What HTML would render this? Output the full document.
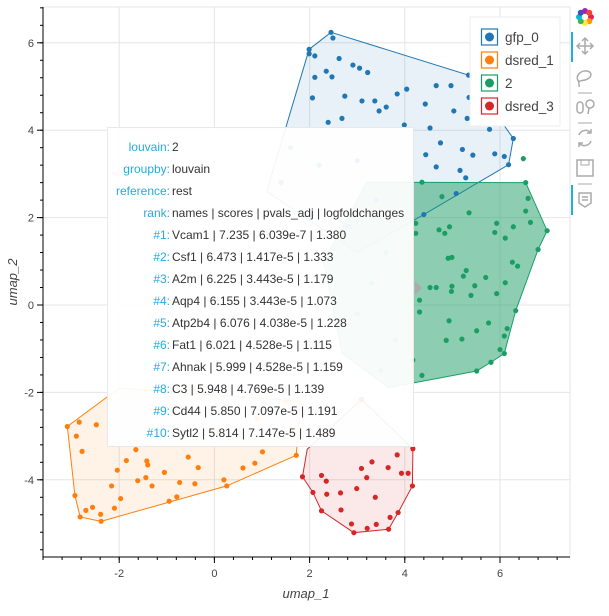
<!DOCTYPE html>
<html><head><meta charset="utf-8"><style>
body{margin:0;background:#fff;width:609px;height:616px;overflow:hidden;font-family:"Liberation Sans",sans-serif}
#wrap{position:relative;width:609px;height:616px}
svg{position:absolute;left:0;top:0}
#tip{position:absolute;left:107px;top:127px;width:307px;height:320px;background:rgba(255,255,255,0.93);border:1px solid #e8e8e8;box-sizing:border-box;font-size:12px;color:#333}
.row{position:absolute;left:0;height:16px;line-height:16px;white-space:nowrap}
.lab{display:inline-block;width:62px;text-align:right;color:#26aae1}
.val{display:inline-block;padding-left:2px}
</style></head><body><div id="wrap">
<svg id="plot" width="609" height="616"></svg>
<div id="tip"></div>
</div>
<script>
const categories=["gfp_0","dsred_1","2","dsred_3"];
const colors=["#1f77b4","#ff7f0e","#1b9e66","#d62728"];
const fillAlpha=[0.1,0.1,0.5,0.1];
const blueX=[2.45,2.49,1.99,1.99,2.11,2.62,2.35,2.91,3.05,3.22,2.11,2.47,2.06,2.74,3.10,3.37,3.46,3.61,3.84,4.04,4.66,4.97,5.34,4.43,5.03,5.35,5.31,2.39,2.68,3.99,4.53,5.78,4.75,5.21,5.43,4.44,5.89,6.09,6.28,6.18,4.66,5.16,5.28,5.08,4.40,1.6,2.2,3.0,3.4,1.4,2.8];
const blueY=[6.24,6.11,5.85,5.75,5.70,5.64,5.35,5.49,5.42,5.32,5.21,5.22,4.74,4.78,4.67,4.67,4.44,4.53,4.83,4.94,5.02,5.02,5.26,4.60,4.44,4.75,4.27,4.18,4.27,4.12,4.05,4.02,3.71,3.56,3.43,3.44,3.46,3.40,3.81,3.21,3.16,3.08,2.91,2.55,2.07,3.6,3.2,3.3,2.4,2.8,1.8];
const orangeX=[-3.09,-2.84,-2.48,-2.90,-2.78,-1.65,-1.85,-1.42,-1.40,-0.55,-0.34,-1.05,-2.04,-2.16,-1.44,-1.61,-1.31,-0.73,-0.41,0.20,0.26,0.60,0.85,1.01,1.72,-2.93,-1.97,-0.79,-0.95,-2.56,-2.70,-2.10,-2.39,-2.82,-2.38,-1.2,0.1,0.9,1.5];
const orangeY=[-2.78,-2.68,-2.74,-3.00,-3.35,-3.31,-3.56,-3.57,-3.66,-3.48,-3.72,-3.83,-3.78,-4.14,-3.95,-4.02,-4.14,-4.06,-4.09,-4.00,-4.14,-3.73,-3.62,-3.36,-3.44,-4.36,-4.43,-4.39,-4.49,-4.63,-4.70,-4.65,-4.79,-4.85,-4.95,-2.5,-2.9,-2.6,-2.2];
const greenX=[6.49,4.36,6.54,4.78,6.59,5.35,6.54,6.64,6.99,4.72,4.84,4.94,5.93,5.89,6.11,6.28,6.80,4.91,4.99,5.29,5.23,5.70,6.26,6.37,6.11,5.47,4.99,4.53,4.66,4.98,5.39,5.93,4.23,4.23,4.31,4.31,4.93,5.76,5.51,6.15,6.09,4.87,5.20,6.00,6.09,5.81,5.51,4.36,6.33,4.17,3.6,3.3,3.8,3.0,3.5];
const greenY=[3.35,2.81,2.80,2.48,2.44,2.11,2.15,1.89,1.70,1.72,1.64,1.79,1.87,1.66,1.53,1.79,1.27,1.07,1.09,0.79,0.66,0.63,0.98,0.89,0.51,0.44,0.43,0.40,0.40,0.31,0.22,0.26,1.87,1.64,0.11,-0.16,-0.36,-0.41,-0.59,-0.54,-0.71,-0.81,-0.78,-1.02,-1.11,-1.31,-1.51,-1.61,-0.13,-1.26,1.2,0.5,-0.8,-0.2,-1.5];
const redX=[4.17,3.84,3.31,3.09,3.65,3.93,4.07,1.85,2.25,2.35,3.20,4.16,2.07,2.36,2.65,2.99,3.38,2.25,2.66,3.86,3.69,2.88,3.40,3.21,3.66,2.93,3.09,2.4];
const redY=[-3.29,-3.43,-3.59,-3.74,-3.72,-3.85,-3.85,-3.93,-3.90,-4.03,-3.95,-4.14,-4.29,-4.33,-4.30,-4.20,-4.40,-4.71,-4.69,-4.75,-4.86,-5.01,-5.02,-5.11,-5.13,-5.21,-2.16,-2.9];
const hullBX=[2.45,5.34,6.28,6.18,4.40,3.0,1.1,1.99];
const hullBY=[6.24,5.26,3.81,3.21,2.07,1.2,2.6,5.85];
const hullOX=[-3.09,-2.93,-2.82,-2.38,0.26,1.72,1.8,-2.0];
const hullOY=[-2.78,-4.36,-4.85,-4.95,-4.14,-3.44,-2.2,-1.9];
const hullGX=[3.2,6.54,6.99,6.80,6.33,6.09,5.81,5.51,3.66,2.68,2.3];
const hullGY=[2.81,2.80,1.70,1.27,-0.13,-1.11,-1.31,-1.51,-1.89,-1.1,1.0];
const hullRX=[1.85,2.07,2.25,2.93,3.66,3.86,4.16,4.17,3.09,1.95];
const hullRY=[-3.93,-4.29,-4.71,-5.21,-5.13,-4.75,-4.14,-3.29,-2.16,-3.3];
const xTicks=[-2,0,2,4,6];
const yTicks=[-4,-2,0,2,4,6];
const tipLabels=["louvain:","groupby:","reference:","rank:","#1:","#2:","#3:","#4:","#5:","#6:","#7:","#8:","#9:","#10:"];
const tipValues=["2","louvain","rest","names | scores | pvals_adj | logfoldchanges","Vcam1 | 7.235 | 6.039e-7 | 1.380","Csf1 | 6.473 | 1.417e-5 | 1.333","A2m | 6.225 | 3.443e-5 | 1.179","Aqp4 | 6.155 | 3.443e-5 | 1.073","Atp2b4 | 6.076 | 4.038e-5 | 1.228","Fat1 | 6.021 | 4.528e-5 | 1.115","Ahnak | 5.999 | 4.528e-5 | 1.159","C3 | 5.948 | 4.769e-5 | 1.139","Cd44 | 5.850 | 7.097e-5 | 1.191","Sytl2 | 5.814 | 7.147e-5 | 1.489"];

const L=43,R=570,T=7,B=557;
const X=v=>214.4+47.6*v, Y=v=>305-43.7*v;
const NS="http://www.w3.org/2000/svg";
const svg=document.getElementById('plot');
function mk(tag,attrs,parent){const e=document.createElementNS(NS,tag);for(const k in attrs)e.setAttribute(k,attrs[k]);(parent||svg).appendChild(e);return e;}
mk('rect',{x:L,y:T,width:R-L,height:B-T,fill:'#fff',stroke:'#e5e5e5'});
const grid=mk('g',{});


xTicks.forEach(t=>mk('line',{x1:X(t),x2:X(t),y1:T,y2:B,stroke:'#e5e5e5'},grid));
yTicks.forEach(t=>mk('line',{x1:L,x2:R,y1:Y(t),y2:Y(t),stroke:'#e5e5e5'},grid));
const hulls=[[hullBX,hullBY],[hullOX,hullOY],[hullGX,hullGY],[hullRX,hullRY]];
const pts=[[blueX,blueY],[orangeX,orangeY],[greenX,greenY],[redX,redY]];
hulls.forEach((h,i)=>{
 const p=mk('polygon',{points:h[0].map((x,j)=>X(x)+','+Y(h[1][j])).join(' '),fill:colors[i],'fill-opacity':fillAlpha[i],stroke:colors[i],'stroke-width':1});
 
 
});
pts.forEach((s,i)=>{
 const g=mk('g',{});
 
 
 s[0].forEach((x,j)=>{const c=mk('circle',{cx:X(x),cy:Y(s[1][j]),r:2.6,fill:colors[i]},g);
  
  });
});
const ax=mk('g',{stroke:'#000','stroke-width':1});


mk('line',{x1:L,x2:L,y1:T,y2:B+1},ax);
mk('line',{x1:L,x2:R,y1:B,y2:B},ax);
for(let k=-9;k<=19;k++){const x=X(k*0.4);if(x>=L&&x<=R)mk('line',{x1:x,x2:x,y1:B,y2:B+3},ax);}
for(let k=-14;k<=17;k++){const y=Y(k*0.4);if(y>=T&&y<=B)mk('line',{x1:L-3,x2:L,y1:y,y2:y},ax);}
xTicks.forEach(t=>{mk('line',{x1:X(t),x2:X(t),y1:B,y2:B+6},ax);
 const tx=mk('text',{x:X(t),y:B+20,'text-anchor':'middle','font-size':11,fill:'#444',stroke:'none'});tx.textContent=t;
 
 });
yTicks.forEach(t=>{mk('line',{x1:L-6,x2:L,y1:Y(t),y2:Y(t)},ax);
 const tx=mk('text',{x:L-9,y:Y(t)+4,'text-anchor':'end','font-size':11,fill:'#444',stroke:'none'});tx.textContent=t;
 
 });
const xl=mk('text',{x:306,y:598,'text-anchor':'middle','font-size':13,'font-style':'italic',fill:'#444'});xl.textContent='umap_1';


const yl=mk('text',{x:0,y:0,transform:'translate(17,282) rotate(-90)','text-anchor':'middle','font-size':13,'font-style':'italic',fill:'#444'});yl.textContent='umap_2';


const lg=mk('g',{});


mk('rect',{x:470,y:17,width:90,height:109,fill:'#fff',stroke:'#eee'},lg);
categories.forEach((c,i)=>{const y=37+23*i;
 const e=mk('g',{},lg);
 
 
 mk('rect',{x:481.5,y:y-8,width:16,height:16,fill:'#fff',stroke:colors[i],'stroke-width':1.2},e);
 mk('circle',{cx:489.5,cy:y,r:4.5,fill:colors[i]},e);
 const t=mk('text',{x:505,y:y+5,'font-size':13.5,fill:'#444'},e);t.textContent=c;});
const tb=mk('g',{stroke:'#aaa',fill:'none','stroke-width':1.5});


['#e91e63','#ff9800','#ffeb3b','#4caf50','#00bcd4','#3f51b5','#9c27b0','#f44336'].forEach((c,i)=>{const a=i*Math.PI/4;
 mk('circle',{cx:585+6*Math.cos(a),cy:17+6*Math.sin(a),r:3,fill:c,stroke:'none'},tb);});
mk('circle',{cx:585,cy:17,r:3,fill:'#fff',stroke:'none'},tb);
mk('rect',{x:571,y:32,width:2,height:30,fill:'#26aae1',stroke:'none'},tb);
mk('rect',{x:571,y:185,width:2,height:30,fill:'#26aae1',stroke:'none'},tb);
const mv=mk('path',{d:'M585 38v16M577 46h16M582 41l3-3 3 3M582 51l3 3 3-3M580 43l-3 3 3 3M590 43l3 3-3 3'},tb);

const ls=mk('path',{d:'M579 82c-5-6 2-12 8-11 6 1 5 7-2 9-3 1-5 0-6 2 -1 2 1 3 0 5'},tb);

mk('line',{x1:578,x2:592,y1:93,y2:93,'stroke-width':1},tb);
mk('rect',{x:577,y:102,width:6,height:11,rx:3},tb);mk('circle',{cx:590,cy:104,r:4},tb);mk('line',{x1:589,x2:588,y1:108,y2:114},tb);
mk('line',{x1:578,x2:592,y1:123,y2:123,'stroke-width':1},tb);
const rs=mk('path',{d:'M579 135a7 7 0 0 1 12 -2M591 141a7 7 0 0 1 -12 2M591 129v4h-4M579 147v-4h4'},tb);

const sv=mk('rect',{x:577,y:160,width:16,height:16},tb);

mk('rect',{x:581,y:160,width:8,height:5,'stroke-width':1},tb);
mk('line',{x1:578,x2:592,y1:184,y2:184,'stroke-width':1},tb);
const hv=mk('path',{d:'M579 193h12v10l-6 4-6-4zM582 197h6M582 200h6'},tb);

mk('path',{d:'M415 281l7 7-7 7z',fill:'#aaa',stroke:'none'});
const tip=document.getElementById('tip');
tipLabels.forEach((l,i)=>{const r=document.createElement('div');r.className='row';r.style.top=(11+22*i)+'px';
 
 
 r.innerHTML='<span class="lab">'+l+'</span><span class="val">'+tipValues[i]+'</span>';tip.appendChild(r);});
</script></body></html>
